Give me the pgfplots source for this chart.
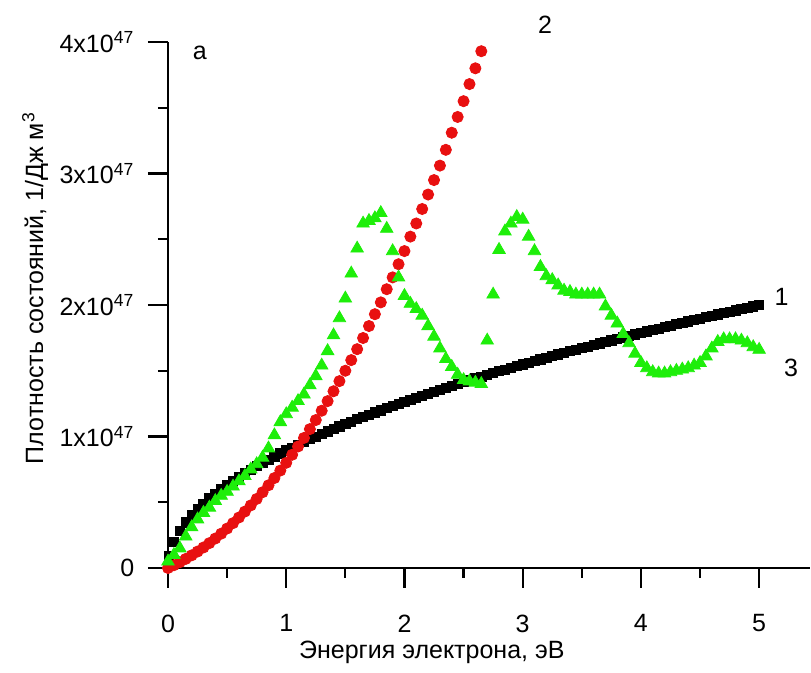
\documentclass[border=0pt]{standalone}
\usepackage{fontspec}
\setmainfont{Liberation Sans}
\usepackage{pgfplots}
\pgfplotsset{compat=1.18}
\definecolor{dred}{RGB}{232,16,16}
\definecolor{dgreen}{RGB}{30,238,10}
\begin{document}
\fontsize{12.5}{15}\selectfont
\begin{tikzpicture}
\useasboundingbox (-84pt,-52.5pt) rectangle (321.5pt,284pt);
\begin{axis}[
  at={(0pt,0pt)}, anchor=south west,
  scale only axis, width=321pt, height=263pt,
  xmin=0, xmax=5.43, ymin=0, ymax=4,
  axis x line=bottom, axis y line=left,
  axis line style={-, line width=1.1pt},
  tick align=outside,
  major tick length=10pt, minor tick length=5pt,
  tick style={black, line width=1.1pt},
  major tick style={black, line width=1.1pt},
  minor tick style={black, line width=1.1pt},
  xtick={0,1,2,3,4,5}, minor xtick={0.5,1.5,2.5,3.5,4.5},
  ytick={0,1,2,3,4}, minor ytick={0.5,1.5,2.5,3.5},
  xticklabels={0,1,2,3,4,5},
  yticklabels={0,1x10\textsuperscript{47},2x10\textsuperscript{47},3x10\textsuperscript{47},4x10\textsuperscript{47}},
  xticklabel style={font=\fontsize{12.5}{15}\selectfont, yshift=-9pt},
  yticklabel style={font=\fontsize{12.5}{15}\selectfont, xshift=-2.5pt},
  clip=false,
]
\addplot[only marks, mark=square*, mark size=2.3pt, black] coordinates {
(0.01,0.09)(0.05,0.200)(0.10,0.283)(0.15,0.346)(0.20,0.400)(0.25,0.447)(0.30,0.490)(0.35,0.529)(0.40,0.565)(0.45,0.600)
(0.50,0.632)(0.55,0.663)(0.60,0.692)(0.65,0.721)(0.70,0.748)(0.75,0.774)(0.80,0.800)(0.85,0.824)(0.90,0.848)(0.95,0.871)
(1.00,0.894)(1.05,0.916)(1.10,0.938)(1.15,0.959)(1.20,0.979)(1.25,0.999)(1.30,1.019)(1.35,1.039)(1.40,1.058)(1.45,1.077)
(1.50,1.095)(1.55,1.113)(1.60,1.131)(1.65,1.148)(1.70,1.166)(1.75,1.183)(1.80,1.199)(1.85,1.216)(1.90,1.232)(1.95,1.248)
(2.00,1.264)(2.05,1.280)(2.10,1.296)(2.15,1.311)(2.20,1.326)(2.25,1.341)(2.30,1.356)(2.35,1.371)(2.40,1.385)(2.45,1.399)
(2.50,1.414)(2.55,1.428)(2.60,1.442)(2.65,1.455)(2.70,1.469)(2.75,1.483)(2.80,1.496)(2.85,1.509)(2.90,1.522)(2.95,1.536)
(3.00,1.548)(3.05,1.561)(3.10,1.574)(3.15,1.587)(3.20,1.599)(3.25,1.612)(3.30,1.624)(3.35,1.636)(3.40,1.648)(3.45,1.661)
(3.50,1.672)(3.55,1.684)(3.60,1.696)(3.65,1.708)(3.70,1.720)(3.75,1.731)(3.80,1.743)(3.85,1.754)(3.90,1.765)(3.95,1.777)
(4.00,1.788)(4.05,1.799)(4.10,1.810)(4.15,1.821)(4.20,1.832)(4.25,1.843)(4.30,1.854)(4.35,1.865)(4.40,1.875)(4.45,1.886)
(4.50,1.896)(4.55,1.907)(4.60,1.917)(4.65,1.928)(4.70,1.938)(4.75,1.948)(4.80,1.959)(4.85,1.969)(4.90,1.979)(4.95,1.989)
(5.00,1.999)
};
\addplot[only marks, mark=*, mark size=2.8pt, dred, mark options={draw=dred, fill=dred}] coordinates {
(0.00,0.000)(0.05,0.021)(0.10,0.044)(0.15,0.069)(0.20,0.096)(0.25,0.125)(0.30,0.156)(0.35,0.189)(0.40,0.224)(0.45,0.261)
(0.50,0.300)(0.55,0.341)(0.60,0.384)(0.65,0.429)(0.70,0.476)(0.75,0.525)(0.80,0.576)(0.85,0.629)(0.90,0.684)(0.95,0.741)
(1.00,0.800)(1.05,0.861)(1.10,0.924)(1.15,0.989)(1.20,1.056)(1.25,1.125)(1.30,1.196)(1.35,1.269)(1.40,1.344)(1.45,1.421)
(1.50,1.500)(1.55,1.581)(1.60,1.664)(1.65,1.749)(1.70,1.84)(1.75,1.93)(1.80,2.02)(1.85,2.12)(1.90,2.21)(1.95,2.31)
(2.00,2.41)(2.05,2.52)(2.10,2.62)(2.15,2.73)(2.20,2.84)(2.25,2.95)(2.30,3.06)(2.35,3.18)(2.40,3.31)(2.45,3.43)
(2.50,3.55)(2.55,3.68)(2.60,3.80)(2.65,3.93)
};
\addplot[only marks, mark=triangle*, mark size=3.6pt, dgreen, mark options={draw=dgreen, fill=dgreen}] coordinates {
(0.00,0.05)(0.05,0.10)(0.10,0.15)(0.15,0.24)(0.20,0.31)(0.25,0.37)(0.30,0.42)(0.35,0.46)(0.40,0.51)(0.45,0.55)
(0.50,0.58)(0.55,0.62)(0.60,0.66)(0.65,0.70)(0.70,0.75)(0.75,0.79)(0.80,0.84)(0.85,0.91)(0.90,1.01)(0.95,1.11)
(1.00,1.17)(1.05,1.22)(1.10,1.27)(1.15,1.32)(1.20,1.39)(1.25,1.46)(1.30,1.54)(1.35,1.65)(1.40,1.77)(1.45,1.90)
(1.50,2.05)(1.55,2.24)(1.60,2.43)(1.65,2.62)(1.70,2.64)(1.75,2.66)(1.80,2.70)(1.85,2.58)(1.90,2.41)(1.95,2.21)
(2.00,2.07)(2.05,2.01)(2.10,1.97)(2.15,1.92)(2.20,1.84)(2.25,1.76)(2.30,1.67)(2.35,1.59)(2.40,1.53)(2.45,1.47)
(2.50,1.43)(2.55,1.42)(2.60,1.41)(2.65,1.40)(2.70,1.73)(2.75,2.08)(2.80,2.42)(2.85,2.56)(2.90,2.62)(2.95,2.67)
(3.00,2.65)(3.05,2.52)(3.10,2.41)(3.15,2.29)(3.20,2.22)(3.25,2.19)(3.30,2.15)(3.35,2.11)(3.40,2.10)(3.45,2.08)
(3.50,2.08)(3.55,2.08)(3.60,2.08)(3.65,2.08)(3.70,1.99)(3.75,1.92)(3.80,1.86)(3.85,1.78)(3.90,1.71)(3.95,1.63)
(4.00,1.56)(4.05,1.52)(4.10,1.49)(4.15,1.48)(4.20,1.48)(4.25,1.49)(4.30,1.50)(4.35,1.51)(4.40,1.52)(4.45,1.54)
(4.50,1.56)(4.55,1.61)(4.60,1.67)(4.65,1.72)(4.70,1.74)(4.75,1.74)(4.80,1.74)(4.85,1.73)(4.90,1.71)(4.95,1.68)
(5.00,1.66)
};
\node at (axis cs:0.27,3.92) {а};
\node at (axis cs:3.19,4.13) {2};
\node at (axis cs:5.19,2.06) {1};
\node at (axis cs:5.27,1.52) {3};
\node[rotate=90] at (axis description cs:-0.207,0.532) {Плотность состояний, 1/Дж м\textsuperscript{3}};
\node at (axis description cs:0.411,-0.160) {Энергия электрона, эВ};
\end{axis}
\end{tikzpicture}
\end{document}
